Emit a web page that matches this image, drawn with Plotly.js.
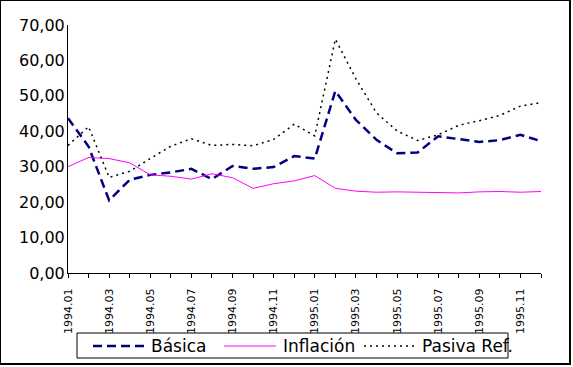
<!DOCTYPE html>
<html>
<head>
<meta charset="utf-8">
<script src="https://cdn.plot.ly/plotly-3.0.1.min.js"></script>
<style>
  html, body { margin: 0; padding: 0; background: #fff; }
  #wrap { position: relative; width: 573px; height: 367px; }
  #chart { position: absolute; left: 0; top: 0; width: 573px; height: 367px; }
  #frame { position: absolute; left: 0; top: 0; width: 568px; height: 362px;
           border-left: 1px solid #000; border-top: 1px solid #000;
           border-right: 2px solid #000; border-bottom: 2px solid #000; pointer-events: none; }
</style>
</head>
<body>
<div id="wrap"><div id="chart"></div><div id="frame"></div></div>
<script>
// Monthly periods
const periods = [
  "1994.01","1994.02","1994.03","1994.04","1994.05","1994.06",
  "1994.07","1994.08","1994.09","1994.10","1994.11","1994.12",
  "1995.01","1995.02","1995.03","1995.04","1995.05","1995.06",
  "1995.07","1995.08","1995.09","1995.10","1995.11","1995.12"
];
// Series values
const basica = [43.7, 35.7, 20.5, 26.3, 27.7, 28.4, 29.4, 26.5, 30.2, 29.4, 29.9, 33.0,
                32.3, 51.4, 43.2, 37.6, 33.8, 34.0, 38.6, 37.9, 37.0, 37.5, 39.0, 37.2];
const inflacion = [30.0, 32.6, 32.3, 31.1, 27.7, 27.3, 26.5, 28.0, 26.9, 23.9, 25.2, 26.0,
                   27.5, 23.9, 23.1, 22.8, 22.9, 22.8, 22.8, 22.6, 22.9, 23.0, 22.8, 23.0];
const pasiva = [36.0, 41.3, 27.0, 28.7, 32.3, 35.8, 37.9, 36.0, 36.3, 35.9, 37.7, 42.0,
                38.7, 66.0, 54.8, 45.2, 40.1, 37.4, 39.0, 41.7, 43.0, 44.5, 47.1, 48.1];
const seriesNames = ["Básica", "Inflación", "Pasiva Ref."];
// Tick labels: every second month
const tickLabels = periods.map((p, i) => (i % 2 === 0 ? p : ""));
const yTicks = [0, 10, 20, 30, 40, 50, 60, 70];

const styles = [
  { color: "#000080", width: 2.5, dash: "9px,5px" },
  { color: "#FF00FF", width: 1, dash: "solid" },
  { color: "#000000", width: 1.5, dash: "2px,4px" }
];
const values = [basica, inflacion, pasiva];

const traces = values.map((v, i) => ({
  x: periods, y: v, name: seriesNames[i], type: "scatter", mode: "lines",
  line: styles[i], showlegend: false
}));

// plot-area geometry (pixels) used to place the boxed legend below the axis
const M = { l: 68, r: 32, t: 25, b: 94 };
const W = 573, H = 367;
const pw = W - M.l - M.r, ph = H - M.t - M.b;
const px = x => (x - M.l) / pw;
const py = y => (H - M.b - y) / ph;

const legY = 346;
const legItems = [ { x0: 93, x1: 145, tx: 150 }, { x0: 224, x1: 276, tx: 282 }, { x0: 364, x1: 414, tx: 421 } ];
const shapes = [
  { type: "rect", xref: "paper", yref: "paper", x0: px(77), x1: px(508), y0: py(358), y1: py(333),
    line: { color: "#000", width: 1 }, fillcolor: "rgba(0,0,0,0)", layer: "above" }
].concat(legItems.map((it, i) => ({
  type: "line", xref: "paper", yref: "paper", x0: px(it.x0), x1: px(it.x1), y0: py(legY), y1: py(legY),
  line: styles[i]
})));
const annotations = legItems.map((it, i) => ({
  xref: "paper", yref: "paper", x: px(it.tx), y: py(legY), xanchor: "left", yanchor: "middle",
  text: seriesNames[i], showarrow: false, borderpad: 0,
  font: { size: 17, family: "DejaVu Sans, sans-serif", color: "#000" }
}));

const layout = {
  width: W, height: H,
  margin: { l: M.l, r: M.r, t: M.t, b: M.b, pad: 0, autoexpand: false },
  paper_bgcolor: "#ffffff", plot_bgcolor: "#ffffff",
  separators: ",.",
  font: { family: "DejaVu Sans, sans-serif", color: "#000", size: 16 },
  showlegend: false,
  xaxis: {
    type: "category", range: [0, 23],
    tickvals: periods, ticktext: tickLabels, tickangle: -90,
    tickfont: { size: 11, family: "DejaVu Sans, sans-serif" },
    ticks: "outside", ticklen: 4, tickcolor: "#000", tickwidth: 1,
    ticklabelstandoff: 6,
    showline: true, linecolor: "#000", linewidth: 1,
    showgrid: false, zeroline: false, fixedrange: true
  },
  yaxis: {
    range: [0, 70], tickvals: yTicks, tickformat: ".2f",
    tickfont: { size: 16, family: "DejaVu Sans, sans-serif" },
    ticks: "", showline: true, linecolor: "#000", linewidth: 1,
    ticklabelstandoff: -1,
    showgrid: false, zeroline: false, fixedrange: true
  },
  shapes: shapes,
  annotations: annotations
};

Plotly.newPlot("chart", traces, layout, { displayModeBar: false, staticPlot: true });
</script>
</body>
</html>
